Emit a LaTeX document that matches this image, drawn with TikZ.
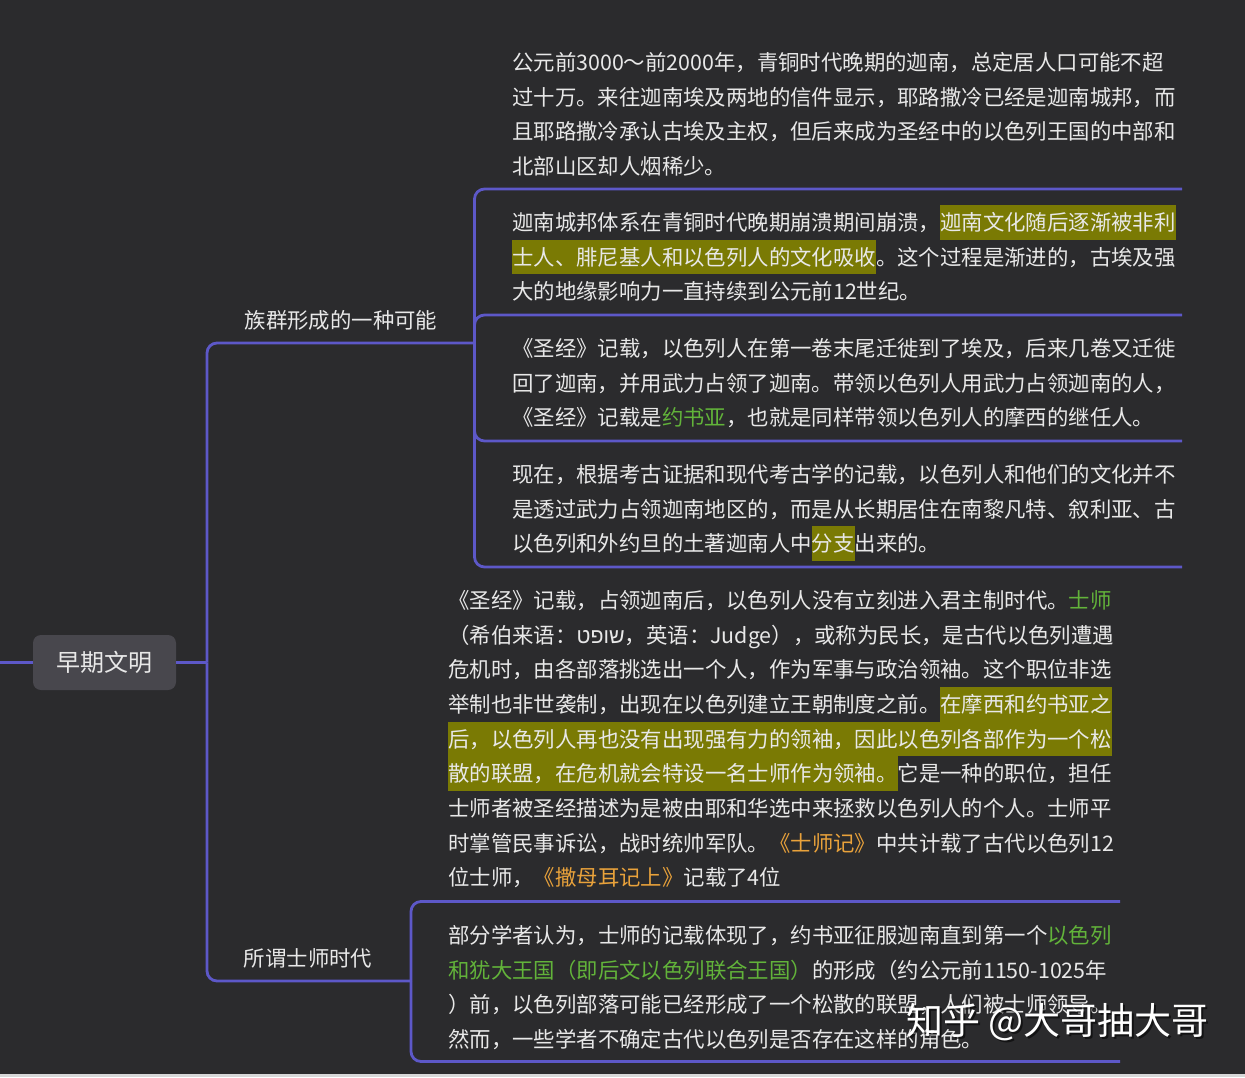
\documentclass[tikz,border=0pt]{standalone}
\usepackage{fontspec}
\setmainfont{Noto Sans CJK SC}
\newfontfamily\hebfont[Script=Hebrew]{Liberation Sans}
\TeXXeTstate=1
\definecolor{bg}{HTML}{2B2B2D}
\definecolor{ln}{HTML}{5D58C8}
\definecolor{txt}{HTML}{E8E8E8}
\definecolor{hlc}{HTML}{7A7A04}
\definecolor{grn}{HTML}{62B33A}
\definecolor{org}{HTML}{E9A23B}
\definecolor{rootfill}{HTML}{48474D}
\definecolor{edge}{HTML}{D8D8D8}
\newcommand\mystrut{\rule[-9.2pt]{0pt}{34.7pt}}
\newcommand\hl[1]{{\setlength{\fboxsep}{0pt}\colorbox{hlc}{\mystrut#1}}}
\newcommand\gr[1]{\textcolor{grn}{#1}}
\newcommand\og[1]{\textcolor{org}{#1}}
\tikzset{
  body/.style={anchor=north west, inner sep=0pt, align=left, text=txt,
    font=\fontsize{21.4}{34.7}\selectfont},
  lbl/.style={inner sep=0pt, text=txt, font=\fontsize{21.4}{24}\selectfont},
  rootbox/.style={fill=rootfill, rounded corners=8pt, minimum width=143pt,
    minimum height=55pt, inner sep=0pt, text=txt, font=\fontsize{24}{28}\selectfont},
  conn/.style={draw=ln, line width=2.8pt, rounded corners=10pt}
}
\begin{document}
\begin{tikzpicture}[x=1pt,y=-1pt]
\useasboundingbox (0,0) rectangle (1245,1077);
\fill[bg] (0,0) rectangle (1245,1077);
\fill[edge] (0,1073.5) rectangle (1245,1077);

% nodes
\node[rootbox] (root) at (104.5,662.5) {早期文明};
\coordinate (L) at (0,662.5);
\coordinate (j0) at (207,662.5);
\coordinate (j1) at (474.5,343);
\coordinate (j2) at (411,981);
\coordinate (e11) at (1182,189);
\coordinate (e12) at (1182,315);
\coordinate (e13) at (1182,441);
\coordinate (e14) at (1182,567);
\coordinate (e21) at (1120,901.5);
\coordinate (e22) at (1120,1061.5);

% connectors
\draw[conn] (L) -- (root.west);
\draw[conn] (root.east) -- (j0);
\draw[conn] (j0) |- (j1);
\draw[conn] (j0) |- (j2);
\draw[conn] (j1) |- (e11);
\draw[conn] (j1) |- (e12);
\draw[conn] (j1) |- (e13);
\draw[conn] (j1) |- (e14);
\draw[conn] (j2) |- (e21);
\draw[conn] (j2) |- (e22);

\node[lbl] (lab1) at (341,320) {族群形成的一种可能};
\node[lbl] (lab2) at (308,958) {所谓士师时代};

\node[body] (c1) at (512,44.65) {\mystrut 公元前3000～前2000年，青铜时代晚期的迦南，总定居人口可能不超\\
\mystrut 过十万。来往迦南埃及两地的信件显示，耶路撒冷已经是迦南城邦，而\\
\mystrut 且耶路撒冷承认古埃及主权，但后来成为圣经中的以色列王国的中部和\\
\mystrut 北部山区却人烟稀少。};

\node[body] (c2) at (512,204.65) {\mystrut 迦南城邦体系在青铜时代晚期崩溃期间崩溃，\hl{迦南文化随后逐渐被非利}\\
\mystrut\hl{士人、腓尼基人和以色列人的文化吸收}。这个过程是渐进的，古埃及强\\
\mystrut 大的地缘影响力一直持续到公元前12世纪。};

\node[body] (c3) at (512,330.65) {\mystrut 《圣经》记载，以色列人在第一卷末尾迁徙到了埃及，后来几卷又迁徙\\
\mystrut 回了迦南，并用武力占领了迦南。带领以色列人用武力占领迦南的人，\\
\mystrut 《圣经》记载是\gr{约书亚}，也就是同样带领以色列人的摩西的继任人。};

\node[body] (c4) at (512,456.65) {\mystrut 现在，根据考古证据和现代考古学的记载，以色列人和他们的文化并不\\
\mystrut 是透过武力占领迦南地区的，而是从长期居住在南黎凡特、叙利亚、古\\
\mystrut 以色列和外约旦的土著迦南人中\hl{分支}出来的。};

\node[body] (a) at (448,582.65) {\mystrut 《圣经》记载，占领迦南后，以色列人没有立刻进入君主制时代。\gr{士师}\\
\mystrut （希伯来语：{\hebfont\beginR שופט\endR}，英语：Judge），或称为民长，是古代以色列遭遇\\
\mystrut 危机时，由各部落挑选出一个人，作为军事与政治领袖。这个职位非选\\
\mystrut 举制也非世袭制，出现在以色列建立王朝制度之前。\hl{在摩西和约书亚之}\\
\mystrut\hl{后，以色列人再也没有出现强有力的领袖，因此以色列各部作为一个松}\\
\mystrut\hl{散的联盟，在危机就会特设一名士师作为领袖。}它是一种的职位，担任\\
\mystrut 士师者被圣经描述为是被由耶和华选中来拯救以色列人的个人。士师平\\
\mystrut 时掌管民事诉讼，战时统帅军队。\og{《士师记》}中共计载了古代以色列12\\
\mystrut 位士师，\og{《撒母耳记上》}记载了4位};

\node[body] (b) at (448,917.65) {\mystrut 部分学者认为，士师的记载体现了，约书亚征服迦南直到第一个\gr{以色列}\\
\mystrut\gr{和犹大王国（即后文以色列联合王国）}的形成（约公元前1150-1025年\\
\mystrut ）前，以色列部落可能已经形成了一个松散的联盟，人们被士师领导。\\
\mystrut 然而，一些学者不确定古代以色列是否存在这样的角色。};

% watermark
\node[text=black, opacity=0.55, inner sep=0pt, font=\fontsize{37}{40}\selectfont] (wms) at (1059.5,1024) {知乎 @大哥抽大哥};
\node[text=white, inner sep=0pt, font=\fontsize{37}{40}\selectfont] (wm) at (1057.5,1022) {知乎 @大哥抽大哥};
\end{tikzpicture}
\end{document}
